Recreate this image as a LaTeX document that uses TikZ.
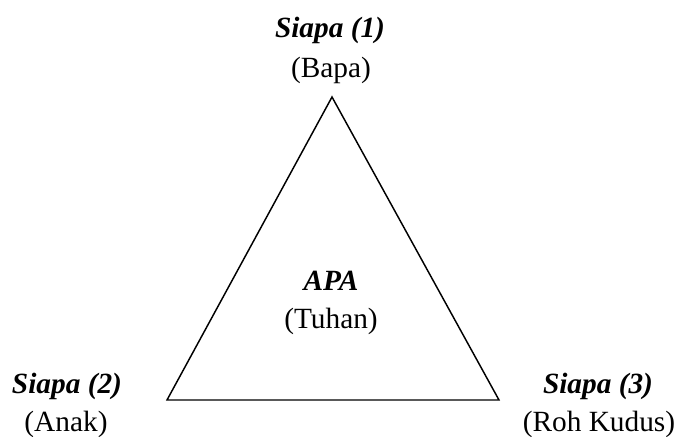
\documentclass[tikz,border=0pt]{standalone}
\usepackage{fontspec}
\setmainfont{Liberation Serif}
\usetikzlibrary{positioning}

\begin{document}
\begin{tikzpicture}[x=0.75pt, y=-0.75pt,
    whotext/.style={font=\fontsize{22pt}{26pt}\selectfont\bfseries\itshape, inner sep=0pt},
    roletext/.style={font=\fontsize{22pt}{26pt}\selectfont, inner sep=0pt}]
    \useasboundingbox (0, 0) rectangle (679, 436);

    % Corners of the triangle
    \coordinate (top) at (332, 97);
    \coordinate (left) at (167, 400);
    \coordinate (right) at (499, 400);
    \draw[line width=1.1pt, line join=miter] (top) -- (left) -- (right) -- cycle;

    % Top: Siapa (1)
    \node[whotext] (who1) at (330, 30) {Siapa (1)};
    \node[roletext] (role1) at (331, 70) {(Bapa)};

    % Centre: APA
    \node[whotext] (what) at (331, 281) {APA};
    \node[roletext] (whatrole) at (331, 321) {(Tuhan)};

    % Left: Siapa (2)
    \node[whotext] (who2) at (67, 386) {Siapa (2)};
    \node[roletext] (role2) at (66, 424) {(Anak)};

    % Right: Siapa (3)
    \node[whotext] (who3) at (598, 386) {Siapa (3)};
    \node[roletext] (role3) at (599, 424) {(Roh Kudus)};
\end{tikzpicture}
\end{document}
